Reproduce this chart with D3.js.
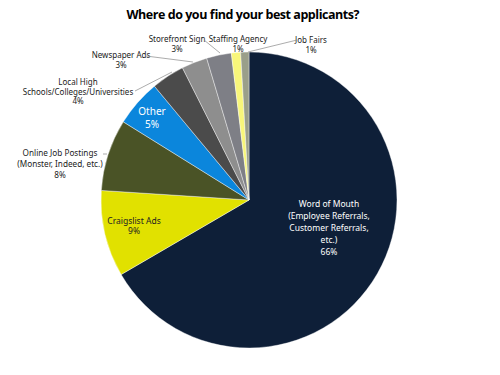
<!DOCTYPE html>
<html lang="en">
<head>
<meta charset="utf-8">
<title>Where do you find your best applicants?</title>
<script src="https://d3js.org/d3.v7.min.js"></script>
<style>
body { margin: 0; background: #fff; }
text { font-family: "Noto Sans", "Liberation Sans", sans-serif; }
.leader { fill: none; stroke: #888; stroke-width: 0.7; }
</style>
</head>
<body>
<script>
// slices, clockwise from 12 o'clock
var names = ["Word of Mouth", "Craigslist Ads", "Online Job Postings", "Other",
  "Local High Schools", "Newspaper Ads", "Storefront Sign", "Staffing Agency", "Job Fairs"];
var values = [66.4, 9.4, 7.8, 5.1, 3.6, 2.8, 2.7, 1.0, 0.9];
var labelLines = [
  ["Word of Mouth", "(Employee Referrals,", "Customer Referrals,", "etc.)"],
  ["Craigslist Ads"],
  ["Online Job Postings", "(Monster, Indeed, etc.)"],
  ["Other"],
  ["Local High", "Schools/Colleges/Universities"],
  ["Newspaper Ads"],
  ["Storefront Sign"],
  ["Staffing Agency"],
  ["Job Fairs"]
];
var colors = ["#0e1f38", "#e1e100", "#4a5326", "#0b86dc", "#4b4b4b",
  "#8e8e8e", "#7e7f86", "#f8f67a", "#9a9f8a"];

var w = 500, h = 375;
var cx = 249, cy = 200, r = 148;

var svg = d3.select("body").append("svg")
  .attr("width", w)
  .attr("height", h);

svg.append("text")
  .attr("x", 243)
  .attr("y", 19)
  .attr("text-anchor", "middle")
  .style("font-family", "'Open Sans', sans-serif")
  .style("font-weight", "bold")
  .style("font-size", "12.5px")
  .attr("textLength", 233)
  .text("Where do you find your best applicants?");

var pie = d3.pie().sort(null).value(function(d) { return d; });
var arcs = pie(values);
var arc = d3.arc().innerRadius(0).outerRadius(r);

var g = svg.append("g").attr("transform", "translate(" + cx + "," + cy + ")");

g.selectAll("path")
  .data(arcs)
  .enter()
  .append("path")
  .attr("d", arc)
  .attr("fill", function(d, i) { return colors[i]; })
  .attr("stroke", "#fff")
  .attr("stroke-width", 0.4);

// label placement: [x, y of first line, text colour, font size, line step, leader points or null]
var place = [
  [329, 207, "#fff", 8.5, 12, null],
  [134, 224, "#222", 8.5, 10, null],
  [60, 156, "#222", 8.2, 11, [[103, 154], [107, 154]]],
  [152, 115, "#fff", 10, 12.5, null],
  [78, 85, "#222", 8, 9.5, [[135, 91], [172, 72]]],
  [121, 58, "#222", 8, 9.5, [[146, 56], [193, 62]]],
  [177, 42, "#222", 8, 9.5, [[204, 40], [220, 53]]],
  [238, 42, "#222", 8, 9.5, null],
  [311, 43, "#222", 8, 9.5, [[297, 40], [248, 52]]]
];

arcs.forEach(function(d, i) {
  var p = place[i];
  var lines = labelLines[i].concat([Math.round(values[i]) + "%"]);
  var t = svg.append("text")
    .attr("text-anchor", "middle")
    .attr("fill", p[2])
    .style("font-size", p[3] + "px");
  lines.forEach(function(s, k) {
    t.append("tspan")
      .attr("x", p[0])
      .attr("y", p[1] + k * p[4])
      .text(s);
  });
  if (p[5]) {
    svg.append("polyline")
      .attr("class", "leader")
      .attr("points", p[5].map(function(q) { return q.join(","); }).join(" "));
  }
});
</script>
</body>
</html>
